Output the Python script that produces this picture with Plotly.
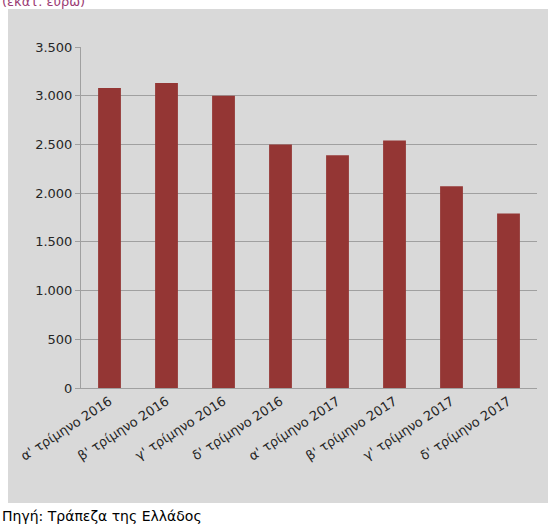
import plotly.graph_objects as go

categories = ["α' τρίμηνο 2016", "β' τρίμηνο 2016", "γ' τρίμηνο 2016", "δ' τρίμηνο 2016",
              "α' τρίμηνο 2017", "β' τρίμηνο 2017", "γ' τρίμηνο 2017", "δ' τρίμηνο 2017"]
values = [3080, 3130, 3000, 2500, 2390, 2540, 2070, 1790]
tick_vals = [0, 500, 1000, 1500, 2000, 2500, 3000, 3500]
tick_text = ["0", "500", "1.000", "1.500", "2.000", "2.500", "3.000", "3.500"]

W, H = 548, 529
L, R, T, B = 81, 11, 47, 141
pw, ph = W - L - R, H - T - B

def px_x(x):
    return (x - L) / pw

def px_y(y):
    return (H - B - y) / ph

FONT = "DejaVu Sans"

fig = go.Figure(go.Bar(
    x=categories, y=values,
    marker=dict(color="#943634", line=dict(width=0)),
    width=0.4,
))

fig.update_layout(
    width=W, height=H,
    margin=dict(l=L, r=R, t=T, b=B, pad=0),
    paper_bgcolor="white",
    plot_bgcolor="#d9d9d9",
    showlegend=False,
    font=dict(family=FONT, size=13, color="#262626"),
    bargap=0.6,
    shapes=[dict(type="rect", xref="paper", yref="paper",
                 x0=px_x(8), x1=px_x(560), y0=px_y(503), y1=px_y(9),
                 fillcolor="#d9d9d9", line=dict(width=0), layer="below")],
    annotations=[
        dict(text="(εκατ. ευρώ)", xref="paper", yref="paper",
             x=px_x(0), y=px_y(2), xanchor="left", yanchor="middle",
             showarrow=False, font=dict(family=FONT, size=13, color="#9b3a73")),
        dict(text="Πηγή: Τράπεζα της Ελλάδος", xref="paper", yref="paper",
             x=px_x(0), y=px_y(516), xanchor="left", yanchor="middle",
             showarrow=False, font=dict(family=FONT, size=14, color="black")),
    ],
)

fig.update_yaxes(
    range=[0, 3500], tickvals=tick_vals, ticktext=tick_text,
    showgrid=True, gridcolor="#a0a0a0", gridwidth=1,
    showline=True, linecolor="#a0a0a0", linewidth=1,
    ticks="outside", ticklen=5, tickcolor="#a0a0a0",
    zeroline=False, tickfont=dict(family=FONT, size=13, color="#262626"),
)
fig.update_xaxes(
    showline=True, linecolor="#a0a0a0", linewidth=1,
    ticks="", tickangle=-33,
    tickfont=dict(family=FONT, size=13, color="#262626"),
)

fig.write_html(
    "out.html",
    config={"displayModeBar": False},
    post_script="document.body.style.margin='0';document.body.style.overflow='hidden';",
)
